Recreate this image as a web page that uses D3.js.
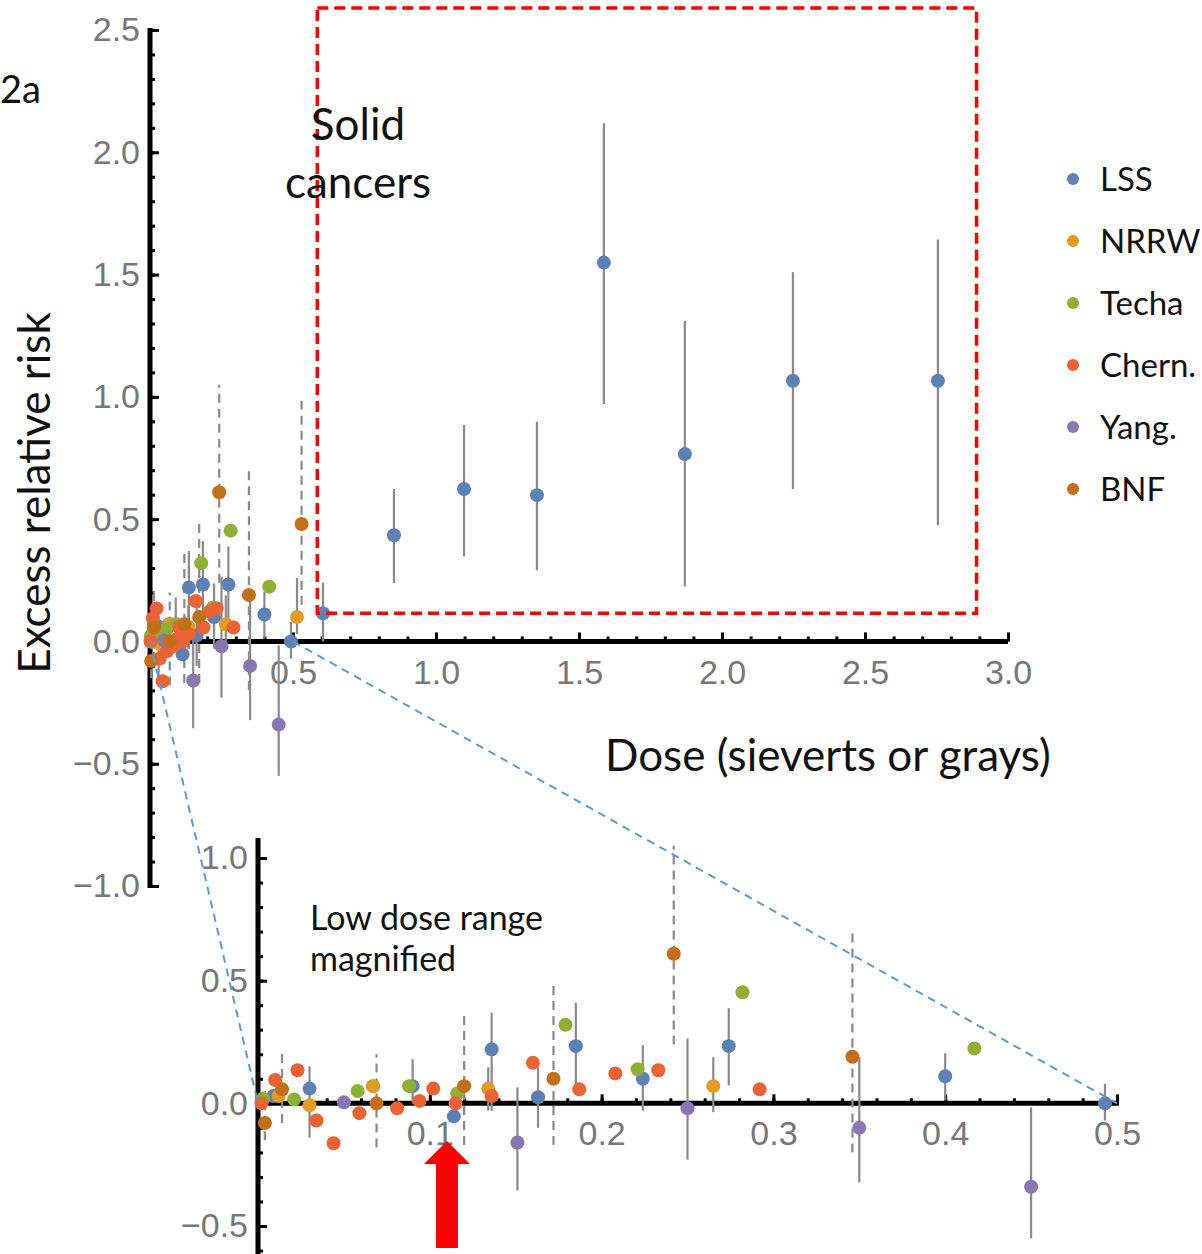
<!DOCTYPE html>
<html>
<head>
<meta charset="utf-8">
<script src="https://cdn.jsdelivr.net/npm/d3@7"></script>
<style>
  body { margin: 0; background: #fff; }
  svg { display: block; }
</style>
</head>
<body>
<svg id="chart"></svg>
<script>
// cohorts and their colours (legend order)
const cohorts = ["LSS", "NRRW", "Techa", "Chern.", "Yang.", "BNF"];
const cohortColors = ["#5E81B5", "#E19C24", "#8FB032", "#EB6235", "#8778B3", "#C56E1A"];

// each row: [dose, ERR, lower CI, upper CI]  (null = no bar drawn)
const lss = [
  [0.009, 0.03, null, null], [0.030, 0.06, -0.14, 0.15], [0.067, 0.07, null, null],
  [0.090, 0.07, 0.0, 0.18], [0.114, -0.053, null, null], [0.136, 0.22, -0.03, 0.37],
  [0.163, 0.025, -0.10, 0.147], [0.185, 0.233, 0.065, 0.41], [0.224, 0.10, -0.03, 0.237],
  [0.274, 0.233, 0.073, 0.388], [0.400, 0.11, 0.012, 0.204], [0.493, 0.0, -0.07, 0.08],
  [0.605, 0.115, 0.0, 0.24], [0.853, 0.434, 0.238, 0.623], [1.098, 0.623, 0.348, 0.885],
  [1.353, 0.598, 0.291, 0.898], [1.587, 1.549, 0.971, 2.119], [1.870, 0.766, 0.225, 1.311],
  [2.248, 1.066, 0.623, 1.51], [2.755, 1.066, 0.475, 1.643]
];
const nrrw = [
  [0.012, 0.03, null, null], [0.030, -0.008, null, null], [0.067, 0.07, null, null],
  [0.134, 0.06, -0.03, 0.147], [0.265, 0.07, -0.036, 0.188], [0.514, 0.10, 0.03, 0.26]
];
const techa = [
  [0.003, 0.02, null, null], [0.021, 0.016, null, null], [0.058, 0.05, null, null],
  [0.088, 0.07, null, null], [0.116, 0.04, null, null], [0.179, 0.32, null, null],
  [0.221, 0.139, null, null], [0.282, 0.453, null, null], [0.417, 0.224, null, null]
];
const chern = [
  [0.002, 0.0, null, null], [0.010, 0.095, null, null], [0.023, 0.135, null, null],
  [0.034, -0.07, null, null], [0.044, -0.163, null, null], [0.059, -0.04, null, null],
  [0.081, -0.02, null, null], [0.094, 0.01, null, null], [0.102, 0.06, null, null],
  [0.115, 0.0, null, null], [0.136, 0.03, null, null], [0.160, 0.165, null, null],
  [0.187, 0.057, null, null], [0.208, 0.122, null, null], [0.233, 0.135, null, null],
  [0.292, 0.057, null, null]
];
const yang = [
  [0.050, 0.004, null, null], [0.151, -0.16, -0.355, 0.065], [0.250, -0.02, -0.23, 0.265],
  [0.350, -0.10, -0.322, 0.188], [0.450, -0.34, -0.55, -0.016]
];
const bnf = [
  [0.004, -0.08, -0.15, 0.05], [0.014, 0.057, -0.08, 0.22], [0.069, 0.0, -0.18, 0.20],
  [0.120, 0.07, -0.17, 0.36], [0.172, 0.10, -0.17, 0.49], [0.242, 0.61, 0.24, 1.05],
  [0.346, 0.19, -0.20, 0.70], [0.530, 0.48, 0.15, 0.99]
];
const cohortRows = [lss, nrrw, techa, chern, yang, bnf];
const dashedCohort = "BNF";

// tick values
const mainXTicks = [0.5, 1.0, 1.5, 2.0, 2.5, 3.0];
const mainYTicks = [-1.0, -0.5, 0.0, 0.5, 1.0, 1.5, 2.0, 2.5];
const insetXTicks = [0.1, 0.2, 0.3, 0.4, 0.5];
const insetYTicks = [-0.5, 0.0, 0.5, 1.0];

// zoomed region in the main panel (dose x ERR)
const boxDose = [0.585, 2.89];
const boxErr = [0.115, 2.59];
const arrowDose = 0.11;

const W = 1202, H = 1254;
const svg = d3.select("#chart").attr("width", W).attr("height", H);

const points = [];
cohortRows.forEach((rows, i) => {
  rows.forEach(r => points.push({cohort: cohorts[i], color: cohortColors[i], dose: r[0], err: r[1], lo: r[2], hi: r[3]}));
});

// scales
const xM = d3.scaleLinear().domain([0, 3]).range([150, 1008]);
const yM = d3.scaleLinear().domain([-1, 2.5]).range([886, 30]);
const xI = d3.scaleLinear().domain([0, 0.5]).range([258, 1117]);
const yI = d3.scaleLinear().domain([-0.5, 1.0]).range([1226, 858]);

const tickFont = "'Liberation Sans', Arial, sans-serif";
const textFont = "Lato, 'Open Sans', sans-serif";
const fmt = d3.format(".1f");

function styleAxis(g) {
  g.select(".domain").remove();
  g.selectAll(".tick line").attr("stroke", "#000").attr("stroke-width", 3);
  g.selectAll(".tick text")
    .attr("fill", "#777")
    .style("font-family", tickFont)
    .style("font-size", "34px");
}

function drawAxes(x, y, xTicks, yTicks, xMinor, yMinor, yTop, yBottom, xEnd) {
  // minor ticks
  svg.append("g")
    .attr("transform", `translate(0,${y(0)})`)
    .call(d3.axisBottom(x).tickValues(xMinor).tickSize(-5).tickFormat(""))
    .call(styleAxis);
  svg.append("g")
    .attr("transform", `translate(${x(0)},0)`)
    .call(d3.axisLeft(y).tickValues(yMinor).tickSize(-5).tickFormat(""))
    .call(styleAxis);
  // major ticks + labels
  svg.append("g")
    .attr("transform", `translate(0,${y(0)})`)
    .call(d3.axisBottom(x).tickValues(xTicks).tickSize(-9).tickPadding(18).tickFormat(fmt))
    .call(styleAxis);
  svg.append("g")
    .attr("transform", `translate(${x(0)},0)`)
    .call(d3.axisLeft(y).tickValues(yTicks).tickSize(-9).tickPadding(10).tickFormat(fmt))
    .call(styleAxis);
  // axis lines
  svg.append("line")
    .attr("x1", x(0)).attr("x2", xEnd)
    .attr("y1", y(0)).attr("y2", y(0))
    .attr("stroke", "#000").attr("stroke-width", 5);
  svg.append("line")
    .attr("x1", x(0)).attr("x2", x(0))
    .attr("y1", yTop).attr("y2", yBottom)
    .attr("stroke", "#000").attr("stroke-width", 5);
}

function drawPoints(data, x, y) {
  const g = svg.append("g");
  g.selectAll("line.bar")
    .data(data.filter(d => d.lo !== null))
    .join("line")
    .attr("class", "bar")
    .attr("x1", d => x(d.dose)).attr("x2", d => x(d.dose))
    .attr("y1", d => y(d.lo)).attr("y2", d => y(d.hi))
    .attr("stroke", "#8a8a8a")
    .attr("stroke-width", 2.2)
    .attr("stroke-dasharray", d => d.cohort === dashedCohort ? "9,6" : null);
  g.selectAll("circle")
    .data(data)
    .join("circle")
    .attr("cx", d => x(d.dose))
    .attr("cy", d => y(d.err))
    .attr("r", 7)
    .attr("fill", d => d.color);
}

// ---- main panel
const range = (a, b, s) => d3.range(Math.round((b - a) / s) + 1).map(i => +(a + i * s).toFixed(3));
drawAxes(xM, yM, mainXTicks, mainYTicks, range(0.1, 3.0, 0.1), range(-1.0, 2.5, 0.1), 28, 888, 1008);
drawPoints(points, xM, yM);

// ---- inset (low dose magnified)
drawAxes(xI, yI, insetXTicks, insetYTicks, range(0.02, 0.5, 0.02), range(-0.6, 1.0, 0.1), 838, H, 1119);
drawPoints(points.filter(d => d.dose <= 0.5), xI, yI);

// connector lines between main and inset
[0, 0.5].forEach(d => {
  svg.append("line")
    .attr("x1", xM(d)).attr("y1", yM(0))
    .attr("x2", xI(d)).attr("y2", yI(0))
    .attr("stroke", "#5B9BD5")
    .attr("stroke-width", 2)
    .attr("stroke-dasharray", "8,6");
});

// red dashed box
svg.append("rect")
  .attr("x", xM(boxDose[0])).attr("y", yM(boxErr[1]))
  .attr("width", xM(boxDose[1]) - xM(boxDose[0]))
  .attr("height", yM(boxErr[0]) - yM(boxErr[1]))
  .attr("fill", "none")
  .attr("stroke", "#FF0000")
  .attr("stroke-width", 3.5)
  .attr("stroke-dasharray", "11,6");

// red arrow
const ax = xI(arrowDose);
svg.append("path")
  .attr("d", `M${ax},1141 L${ax + 23},1164 L${ax + 11},1164 L${ax + 11},1248 L${ax - 11},1248 L${ax - 11},1164 L${ax - 23},1164 Z`)
  .attr("fill", "#FF0000");

// ---- texts
const txt = (x, y, s, size, anchor) => svg.append("text")
  .attr("x", x).attr("y", y)
  .attr("text-anchor", anchor || "start")
  .style("font-family", textFont)
  .style("font-size", size + "px")
  .attr("fill", "#111")
  .text(s);

txt(0, 103, "2a", 38);
txt(358, 140, "Solid", 44, "middle");
txt(358, 198, "cancers", 44, "middle");
txt(605, 771, "Dose (sieverts or grays)", 44);
txt(310, 930, "Low dose range", 34);
txt(310, 971, "magnified", 34);

svg.append("text")
  .attr("transform", "translate(50,493) rotate(-90)")
  .attr("text-anchor", "middle")
  .style("font-family", textFont)
  .style("font-size", "44px")
  .attr("fill", "#111")
  .text("Excess relative risk");

// legend
const legend = svg.append("g");
cohorts.forEach((c, i) => {
  const ly = 179 + i * 62;
  legend.append("circle").attr("cx", 1073).attr("cy", ly).attr("r", 6).attr("fill", cohortColors[i]);
  legend.append("text")
    .attr("x", 1100).attr("y", ly + 12)
    .style("font-family", textFont)
    .style("font-size", "33px")
    .attr("fill", "#111")
    .text(c);
});
</script>
</body>
</html>
